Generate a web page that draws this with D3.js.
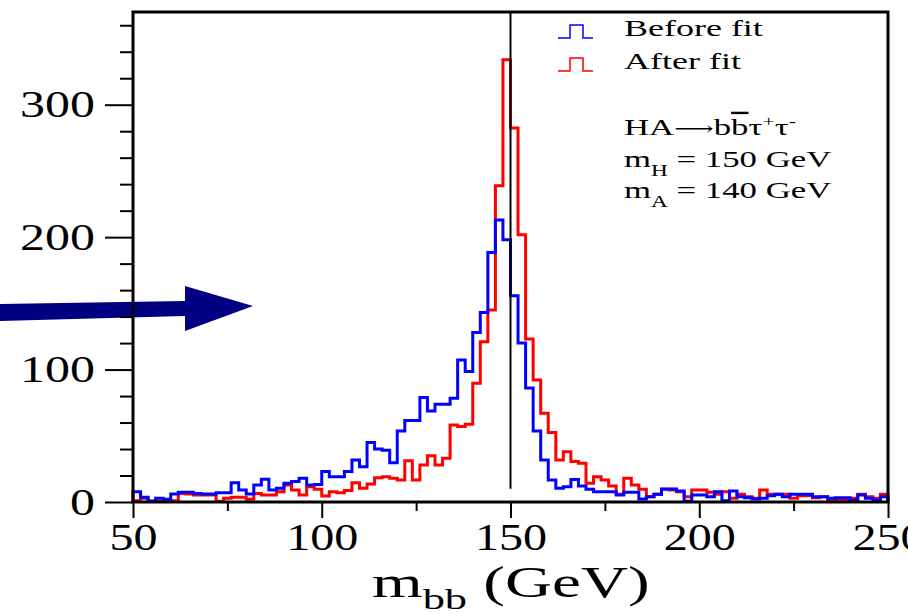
<!DOCTYPE html>
<html>
<head>
<meta charset="utf-8">
<script src="https://cdn.jsdelivr.net/npm/d3@7"></script>
<style>
  body { margin: 0; background: #fff; }
  svg { display: block; }
</style>
</head>
<body>
<div id="chart"></div>
<script>
// bin low edges, 2 GeV wide, from 50 to 248
var binEdges = d3.range(50, 250, 2);

// m_bb before the kinematic fit (blue)
var beforeFit = [
  7.8, 3.5, 0.8, 2.8, 2.0, 6.0, 7.3, 7.3, 6.5, 6.0,
  6.0, 7.0, 7.0, 14.6, 9.1, 6.0, 12.8, 17.1, 9.1, 10.3,
  14.1, 15.4, 17.9, 12.8, 13.3, 23, 19, 19, 23, 31.7,
  26.7, 45, 40, 39, 29.7, 53.7, 61.5, 61.5, 79, 68.8,
  73.8, 73.8, 78.3, 107.3, 98.5, 128, 143, 188.4, 213, 198,
  155.7, 120, 86, 53.6, 31.7, 16.6, 10.3, 11.5, 17, 12,
  9.6, 7.8, 7.8, 7.8, 5.3, 7.3, 7.3, 2.3, 4.0, 5.8,
  9.8, 9.8, 8.3, 0.5, 5.3, 5.3, 4.0, 7.8, 1.0, 8.3,
  4.0, 3.3, 2.3, 2.8, 4.8, 5.8, 4.0, 5.8, 5.8, 5.8,
  4.0, 4.0, 2.8, 3.3, 3.3, 1.5, 5.3, 2.8, 1.5, 4.0
];

// m_bb after the fit (red)
var afterFit = [
  1.0, 2.8, 0.5, 0.5, 0.5, 1.0, 6.5, 6.0, 5.3, 5.3,
  5.3, 0.5, 2.8, 3.5, 3.5, 2.0, 6.5, 5.3, 5.3, 7.8,
  12.8, 9.1, 5.3, 11.6, 9.6, 4.5, 7.8, 7.0, 8.6, 14.6,
  10.3, 13.6, 18.4, 19.1, 17.9, 16.6, 31.2, 16.6, 28, 35,
  28, 33, 58.2, 57, 58.7, 89.7, 121, 145, 238.8, 334,
  282.4, 201.8, 123, 92.2, 67, 52.4, 31.7, 38, 30.5, 29.2,
  14.1, 19.1, 16.6, 12.1, 5.8, 17.9, 12.8, 9.7, 4.0, 5.8,
  9.6, 9.1, 7.8, 4.0, 9.1, 9.1, 7.3, 5.8, 7.8, 2.8,
  5.8, 4.0, 2.8, 9.1, 5.8, 5.8, 5.8, 2.8, 4.8, 4.8,
  3.3, 4.0, 1.5, 1.5, 1.5, 2.8, 5.8, 4.0, 2.8, 5.8
];

var xMajor = [50, 100, 150, 200, 250];
var xMinor = [75, 125, 175, 225];
var yMajor = [0, 100, 200, 300];
var yMinor = d3.range(20, 370, 20).filter(function(d) { return d % 100 != 0; });
var mHiggs = 150;

var legendItems = [
  { label: "Before fit", color: "#0000ff" },
  { label: "After fit", color: "#ff0000" }
];

var W = 908, H = 613;
// careful: "top" is taken by window.top
var pLeft = 133, pRight = 888, pTop = 12, pBottom = 502;
var serif = "'Liberation Serif', 'Times New Roman', serif";

var svg = d3.select("#chart").append("svg")
  .attr("width", W)
  .attr("height", H);

var x = d3.scaleLinear().domain([50, 250]).range([pLeft, pRight]);
var y = d3.scaleLinear().domain([0, 370]).range([pBottom, pTop]);

// the arrow pointing in from the left
svg.append("polygon")
  .attr("points", "0,304 185,301 185,286 253,306 185,331 185,316 0,321")
  .attr("fill", "#000080");

// histograms as step lines
var step = d3.line()
  .x(function(d) { return x(d[0]); })
  .y(function(d) { return y(d[1]); })
  .curve(d3.curveStepAfter);

var histPoints = function(vals) {
  var pts = [[50, 0]];
  for (var i = 0; i < vals.length; i++) {
    pts.push([binEdges[i], vals[i]]);
  }
  pts.push([250, 0]);
  return pts;
};

svg.append("path")
  .attr("d", step(histPoints(afterFit)))
  .attr("fill", "none")
  .attr("stroke", legendItems[1].color)
  .attr("stroke-width", 3);

svg.append("path")
  .attr("d", step(histPoints(beforeFit)))
  .attr("fill", "none")
  .attr("stroke", legendItems[0].color)
  .attr("stroke-width", 3);

// vertical marker at m_H
svg.append("line")
  .attr("x1", x(mHiggs)).attr("x2", x(mHiggs))
  .attr("y1", pTop).attr("y2", y(10))
  .attr("stroke", "#000")
  .attr("stroke-width", 2);

// axes
var yAxis = svg.append("g")
  .attr("transform", "translate(" + pLeft + ",0)")
  .call(d3.axisLeft(y).tickValues(yMajor).tickSize(28));
yAxis.select(".domain").remove();
yAxis.selectAll("line").attr("stroke-width", 2);
yAxis.selectAll("text")
  .attr("x", 0)
  .attr("dy", "0.33em")
  .attr("transform", "translate(-38,0) scale(1.35,1)")
  .attr("font-family", serif)
  .attr("font-size", 37)
  .attr("fill", "#000");

var yAxisMinor = svg.append("g")
  .attr("transform", "translate(" + pLeft + ",0)")
  .call(d3.axisLeft(y).tickValues(yMinor).tickSize(13).tickFormat(""));
yAxisMinor.select(".domain").remove();
yAxisMinor.selectAll("line").attr("stroke-width", 2);

var xAxis = svg.append("g")
  .attr("transform", "translate(0," + pBottom + ")")
  .call(d3.axisBottom(x).tickValues(xMajor).tickSize(16));
xAxis.select(".domain").remove();
xAxis.selectAll("line").attr("stroke-width", 2);
xAxis.selectAll("text")
  .attr("y", 0)
  .attr("dy", 0)
  .attr("transform", "translate(0,48) scale(1.3,1)")
  .attr("font-family", serif)
  .attr("font-size", 37)
  .attr("fill", "#000");

var xAxisMinor = svg.append("g")
  .attr("transform", "translate(0," + pBottom + ")")
  .call(d3.axisBottom(x).tickValues(xMinor).tickSize(9).tickFormat(""));
xAxisMinor.select(".domain").remove();
xAxisMinor.selectAll("line").attr("stroke-width", 2);

// frame
svg.append("rect")
  .attr("x", pLeft).attr("y", pTop)
  .attr("width", pRight - pLeft).attr("height", pBottom - pTop)
  .attr("fill", "none")
  .attr("stroke", "#000")
  .attr("stroke-width", 3);

// stretched serif text, like the original plot
var stext = function(px, py, sx, size) {
  return svg.append("g")
    .attr("transform", "translate(" + px + "," + py + ") scale(" + sx + ",1)")
    .append("text")
    .attr("font-family", serif)
    .attr("font-size", size)
    .attr("fill", "#000");
};

// axis title m_bb (GeV)
var title = stext(372, 597, 1.48, 44);
title.append("tspan").text("m");
title.append("tspan").attr("font-size", 30).attr("dy", 12).text("bb");
title.append("tspan").attr("dy", -12).text(" (GeV)");

// legend
legendItems.forEach(function(item, i) {
  var by = 38 + i * 33;
  var gx = 558;
  svg.append("path")
    .attr("d", "M" + gx + "," + by + "H" + (gx + 12) + "V" + (by - 13) +
      "H" + (gx + 25) + "V" + by + "H" + (gx + 35))
    .attr("fill", "none")
    .attr("stroke", item.color)
    .attr("stroke-width", 1.5);
  stext(624, 36 + i * 33, 1.5, 24).text(item.label);
});

// process and masses
var proc = stext(624, 135, 1.45, 24);
proc.append("tspan").text("HA");
proc.append("tspan").attr("font-family", "'DejaVu Serif', serif").attr("font-size", 19).text("\u27f6");
proc.append("tspan").text("b");
proc.append("tspan").attr("text-decoration", "overline").text("b");
proc.append("tspan").text("\u03c4");
proc.append("tspan").attr("font-size", 15).attr("dy", -9).text("+");
proc.append("tspan").attr("dy", 9).text("\u03c4");
proc.append("tspan").attr("font-size", 15).attr("dy", -9).text("-");

var massLines = [["H", "150"], ["A", "140"]];
massLines.forEach(function(m, i) {
  var t = stext(624, 167 + i * 31, 1.45, 24);
  t.append("tspan").text("m");
  t.append("tspan").attr("font-size", 16).attr("dy", 9).text(m[0]);
  t.append("tspan").attr("dy", -9).text(" = " + m[1] + " GeV");
});
</script>
</body>
</html>
